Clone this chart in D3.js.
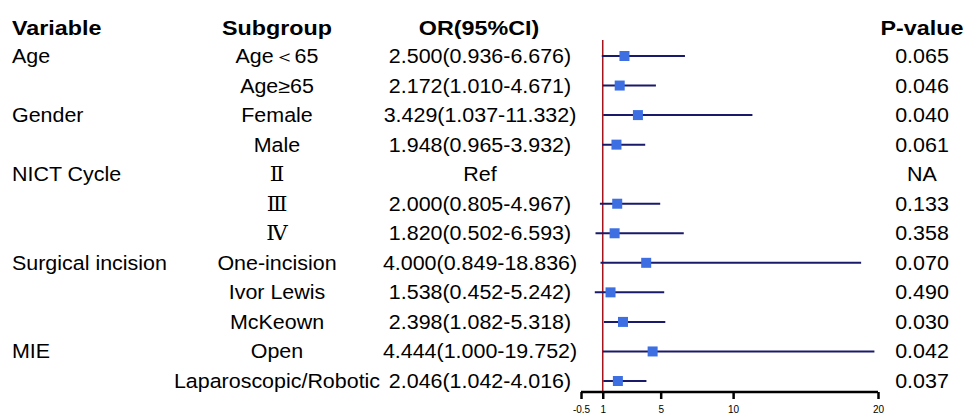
<!DOCTYPE html>
<html>
<head>
<meta charset="utf-8">
<script src="https://cdn.jsdelivr.net/npm/d3@7"></script>
<style>
  body { margin: 0; background: #fff; }
  svg { font-family: "Liberation Sans", Arial, sans-serif; }
</style>
</head>
<body>
<svg width="966" height="420"></svg>
<script>
const variables = ["Age", "", "Gender", "", "NICT Cycle", "", "", "Surgical incision", "", "", "MIE", ""];
const subgroups = ["Age\uFF1C65", "Age\u226565", "Female", "Male", "\u2161", "\u2162", "\u2163",
    "One-incision", "Ivor Lewis", "McKeown", "Open", "Laparoscopic/Robotic"];
const orValues = [2.500, 2.172, 3.429, 1.948, null, 2.000, 1.820, 4.000, 1.538, 2.398, 4.444, 2.046];
const lowerCI = [0.936, 1.010, 1.037, 0.965, null, 0.805, 0.502, 0.849, 0.452, 1.082, 1.000, 1.042];
const upperCI = [6.676, 4.671, 11.332, 3.932, null, 4.967, 6.593, 18.836, 5.242, 5.318, 19.752, 4.016];
const pValues = ["0.065", "0.046", "0.040", "0.061", "NA", "0.133", "0.358", "0.070", "0.490", "0.030", "0.042", "0.037"];
const xTicks = [-0.5, 1, 5, 10, 20];

const svg = d3.select("svg");
const fmt = d3.format(".3f");
const rows = d3.range(subgroups.length);

const y = d3.scalePoint()
    .domain(rows)
    .range([56, 381]);

const x = d3.scaleLinear()
    .domain([-0.5, 20])
    .range([581, 878]);

// the source image is a bit wider than tall, so stretch text horizontally
const stretch = (tx, ty, s) => "translate(" + tx + "," + ty + ") scale(" + s + ",1)";

// headers
const headers = [
    {text: "Variable", x: 12, anchor: "start"},
    {text: "Subgroup", x: 277, anchor: "middle"},
    {text: "OR(95%CI)", x: 479, anchor: "middle"},
    {text: "P-value", x: 922, anchor: "middle"}
];
svg.append("g")
    .selectAll("text")
    .data(headers)
    .enter().append("text")
    .attr("transform", d => stretch(d.x, 35, 1.11))
    .attr("text-anchor", d => d.anchor)
    .attr("font-size", 21)
    .attr("font-weight", "bold")
    .text(d => d.text);

// table columns
const table = svg.append("g").attr("font-size", 19.5);

const columns = [
    {cls: "var", x: 12, anchor: "start", text: i => variables[i]},
    {cls: "sub", x: 277, anchor: "middle", text: i => subgroups[i]},
    {cls: "or", x: 480, anchor: "middle", text: i => orValues[i] == null ? "Ref"
        : fmt(orValues[i]) + "(" + fmt(lowerCI[i]) + "-" + fmt(upperCI[i]) + ")"},
    {cls: "p", x: 922, anchor: "middle", text: i => pValues[i]}
];

for(const col of columns) {
    table.selectAll("." + col.cls)
        .data(rows)
        .enter().append("text")
        .attr("class", col.cls)
        .attr("transform", i => stretch(col.x, y(i) + 7, 1.1))
        .attr("text-anchor", col.anchor)
        .attr("font-family", i => (col.cls === "sub" && i >= 4 && i <= 6)
            ? "'DejaVu Serif', 'Liberation Serif', serif" : null)
        .text(col.text);
}

// reference line at OR = 1
svg.append("line")
    .attr("x1", x(1)).attr("x2", x(1))
    .attr("y1", 40).attr("y2", 393)
    .attr("stroke", "#a3141c")
    .attr("stroke-width", 1.5);

// CI lines and boxes
const est = rows.filter(i => orValues[i] != null);

svg.append("g")
    .selectAll("line")
    .data(est)
    .enter().append("line")
    .attr("x1", i => x(lowerCI[i]))
    .attr("x2", i => x(upperCI[i]))
    .attr("y1", i => y(i))
    .attr("y2", i => y(i))
    .attr("stroke", "#1a1a6b")
    .attr("stroke-width", 2);

svg.append("g")
    .selectAll("rect")
    .data(est)
    .enter().append("rect")
    .attr("x", i => x(orValues[i]) - 5)
    .attr("y", i => y(i) - 5)
    .attr("width", 10)
    .attr("height", 10)
    .attr("fill", "#3d6fe3");

// x axis
const axis = svg.append("g")
    .attr("transform", "translate(0,392)")
    .call(d3.axisBottom(x)
        .tickValues(xTicks)
        .tickSize(7)
        .tickPadding(7)
        .tickFormat(d => d));
axis.select(".domain").attr("stroke", "#000").attr("stroke-width", 2.5)
    .attr("d", "M" + x(-0.5) + ",0H" + x(20));
axis.selectAll(".tick line").attr("stroke", "#000").attr("stroke-width", 2.5);
axis.selectAll(".tick text")
    .attr("font-size", 10)
    .attr("font-family", "'Liberation Sans', Arial, sans-serif")
    .attr("fill", "#000");
</script>
</body>
</html>
